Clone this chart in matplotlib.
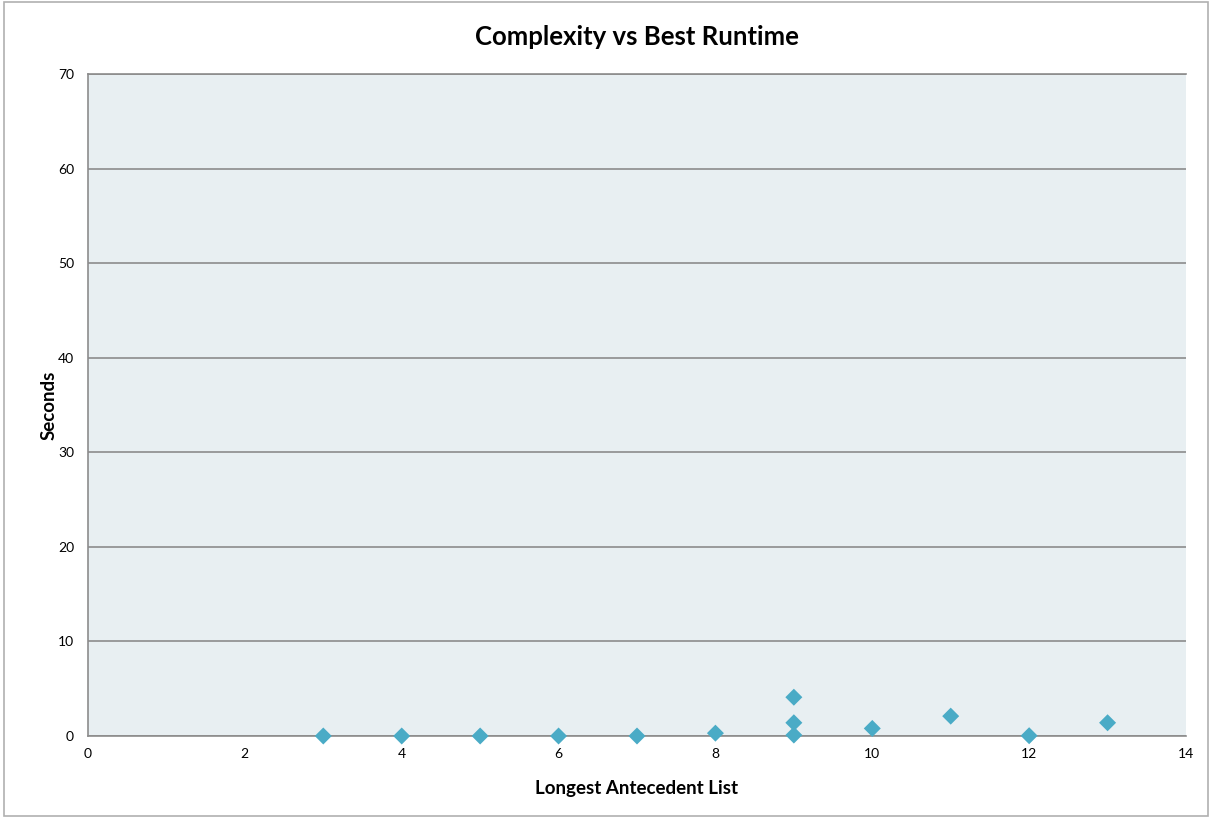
import matplotlib
matplotlib.use("Agg")
import matplotlib.pyplot as plt
from matplotlib.patches import Rectangle

# longest antecedent list length vs best runtime (seconds)
antecedent_len = [3, 4, 5, 6, 7, 8, 9, 9, 9, 10, 11, 12, 13]
best_runtime = [0.0, 0.0, 0.0, 0.0, 0.0, 0.3, 4.1, 1.4, 0.1, 0.8, 2.1, 0.03, 1.4]

x_ticks = [0, 2, 4, 6, 8, 10, 12, 14]
y_ticks = [0, 10, 20, 30, 40, 50, 60, 70]

plt.rcParams['font.family'] = ['Lato', 'DejaVu Sans']

fig = plt.figure(figsize=(12.12, 8.18), dpi=100)
ax = fig.add_axes([88 / 1212, 1 - 736 / 818, 1098 / 1212, 662 / 818])
ax.set_facecolor('#e8eff2')

# thin frame around the whole chart
fig.patches.append(Rectangle((0.003, 0.003), 0.994, 0.994, transform=fig.transFigure,
                             fill=False, edgecolor='#b0b0b0', linewidth=1.2))

ax.scatter(antecedent_len, best_runtime, marker='D', s=75, color='#4aabc6',
           edgecolors='none', zorder=3, clip_on=False)

ax.set_xlim(0, 14)
ax.set_ylim(0, 70)
ax.set_xticks(x_ticks)
ax.set_yticks(y_ticks)
ax.yaxis.grid(True, color='#8c8c8c', linewidth=1.2)
ax.set_axisbelow(True)
ax.tick_params(length=0, labelsize=10, pad=9)
ax.tick_params(axis='y', pad=10)

for side in ['left', 'bottom', 'top']:
    ax.spines[side].set_color('#8c8c8c')
    ax.spines[side].set_linewidth(1.2)
ax.spines['right'].set_visible(False)

ax.set_title('Complexity vs Best Runtime', fontsize=18.5, fontweight='bold', pad=21)
ax.set_xlabel('Longest Antecedent List', fontsize=13.5, fontweight='bold', labelpad=14)
ax.set_ylabel('Seconds', fontsize=13.5, fontweight='bold', labelpad=0)

fig.savefig('out.png', dpi=100)
